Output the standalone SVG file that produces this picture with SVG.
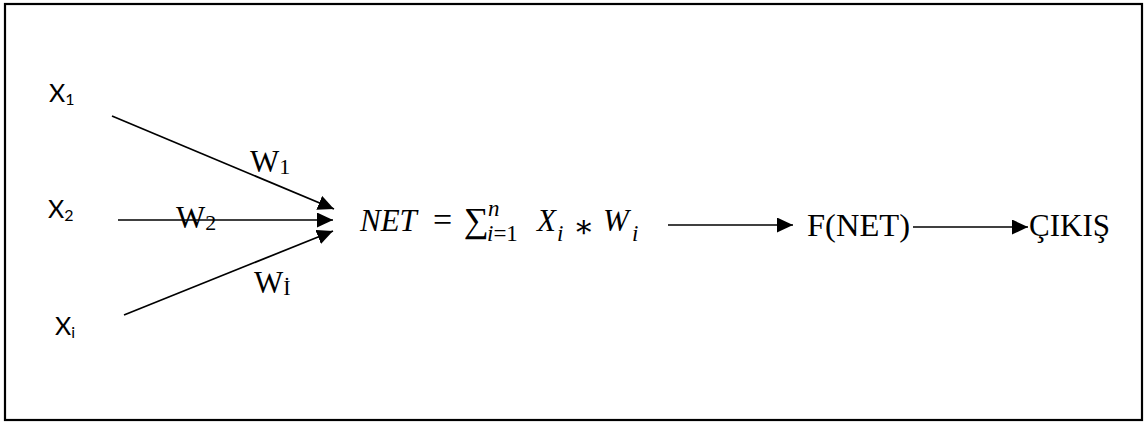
<svg xmlns="http://www.w3.org/2000/svg" width="1147" height="423" viewBox="0 0 1147 423">
<style>
.frame{fill:#fff;stroke:#000;stroke-width:2.2}
.ln{stroke:#000;stroke-width:1.7;fill:none;marker-end:url(#ah)}
.xsub{font-size:16px}
.wsub{font-size:22px}
.ms{font-size:23px}
</style>
<defs>
<marker id="ah" markerUnits="userSpaceOnUse" markerWidth="17" markerHeight="15" refX="16" refY="7.5" orient="auto">
<path d="M0,0 L16,7.5 L0,15 z" fill="#000"/>
</marker>
</defs>
<rect class="frame" x="5" y="4" width="1137" height="416"/>
<g id="connectors">
<line class="ln" x1="112" y1="116" x2="334" y2="209"/>
<line class="ln" x1="118" y1="220" x2="333" y2="220"/>
<line class="ln" x1="124" y1="315" x2="333" y2="231"/>
<line class="ln" x1="668" y1="225" x2="793" y2="225"/>
<line class="ln" x1="913" y1="227" x2="1028" y2="227"/>
</g>
<g font-family="Lato, 'Open Sans', sans-serif" font-size="25" fill="#000">
<g id="x1"><text x="49" y="102">X<tspan class="xsub" dy="3">1</tspan></text></g>
<g id="x2"><text x="48" y="218">X<tspan class="xsub" dy="3">2</tspan></text></g>
<g id="xi"><text x="55" y="335">X<tspan class="xsub" dy="3">i</tspan></text></g>
</g>
<g font-family="'Liberation Serif', 'Times New Roman', 'DejaVu Serif', serif" font-size="31" fill="#000">
<g id="w1"><text x="250" y="172">W<tspan class="wsub" dy="2">1</tspan></text></g>
<g id="w2"><text x="176" y="228">W<tspan class="wsub" dy="2">2</tspan></text></g>
<g id="wi"><text x="254" y="293">W<tspan class="wsub" dy="2">İ</tspan></text></g>
<g id="net">
<text font-size="31">
<tspan font-style="italic" x="360" y="231">NET</tspan>
<tspan x="433" y="231" font-size="34">=</tspan>
<tspan x="464" y="232" font-size="35">∑</tspan>
<tspan font-style="italic" class="ms" x="488" y="216">n</tspan>
<tspan class="ms" x="487" y="241"><tspan font-style="italic">i</tspan>=1</tspan>
<tspan font-style="italic" x="537" y="231">X</tspan>
<tspan font-style="italic" class="ms" x="557" y="241">i</tspan>
<tspan x="573" y="237">∗</tspan>
<tspan font-style="italic" x="603" y="231">W</tspan>
<tspan font-style="italic" class="ms" x="632" y="241">i</tspan>
</text>
</g>
<g id="fnet"><text x="807" y="236" textLength="103" lengthAdjust="spacingAndGlyphs">F(NET)</text></g>
<g id="cikis"><text x="1029" y="236" textLength="81" lengthAdjust="spacingAndGlyphs">ÇIKIŞ</text></g>
</g>
</svg>
